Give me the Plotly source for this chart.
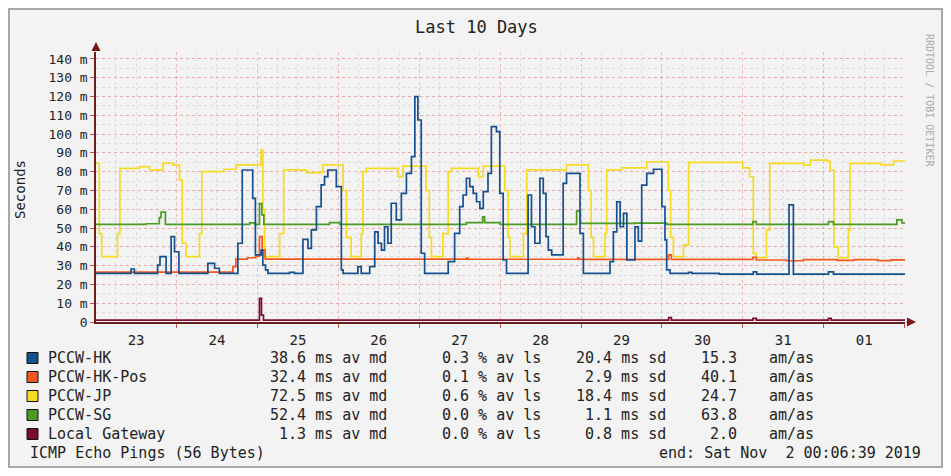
import pandas as pd
import plotly.graph_objects as go

# 時刻はすべて 2019-10-23 00:00 からの経過時間 (h)
START = pd.Timestamp("2019-10-23 00:00:00")
END = pd.Timestamp("2019-11-02 00:06:39")

hk_t = [0.11, 10.5, 11.5, 18.4, 19.1, 20.9, 22.4, 23.4, 24.7, 33.3, 35.3, 36.7,
        42.2, 43.5, 46.6, 47.4, 49.1, 49.6, 50.4, 51.1, 57.5, 59.0,
        61.5, 63.0, 64.0, 65.5, 66.9, 67.9, 68.9, 71.4, 72.9, 73.4, 77.8, 78.8,
        81.3, 82.8, 83.8, 84.8, 85.7, 86.7, 87.7, 89.2, 90.7, 92.2, 93.7, 94.7,
        95.6, 96.6, 97.6, 104.6, 106.5, 108.0, 109.0, 110.0, 111.0, 112.0, 113.0,
        114.0, 115.0, 116.4, 117.4, 118.9, 119.9, 120.9, 121.9,
        128.3, 129.3, 130.3, 131.8, 132.8, 133.6, 134.3, 135.3, 138.7, 139.7,
        143.7, 144.7, 152.6, 153.6, 154.6, 155.6, 156.6, 157.6, 160.0, 161.0,
        162.0, 163.5, 165.5, 168.0, 168.9, 169.4, 170.4, 175.9, 176.9, 185.0,
        195.1, 196.1, 205.7, 207.0, 217.4, 218.9, 240.11]
hk_v = [25.9, 28.2, 25.9, 30.3, 34.8, 25.9, 45.4, 37.4, 25.9, 31.2, 28.6, 25.9,
        41.9, 80.9, 65.8, 35.7, 38.3, 30.3, 27.7, 25.9, 26.4, 25.9,
        44.0, 39.2, 49.0, 61.4, 73.0, 77.4, 80.9, 72.0, 27.7, 25.9, 29.5, 25.9,
        29.5, 48.0, 41.9, 38.3, 50.7, 41.9, 63.2, 54.3, 68.5, 79.1, 88.0, 120.0,
        107.5, 36.6, 25.9, 32.1, 47.2, 61.4, 67.6, 76.5, 72.0, 68.5, 64.0,
        60.5, 69.4, 79.1, 104.0, 101.3, 68.5, 33.0, 25.9,
        67.6, 50.7, 41.9, 76.5, 68.5, 45.4, 38.3, 35.7, 73.8, 79.1,
        47.2, 25.9, 32.1, 48.0, 64.0, 50.7, 57.8, 33.0, 50.7, 43.0,
        72.9, 79.1, 81.3, 61.4, 43.7, 27.7, 25.9, 26.4, 25.9, 25.5,
        26.7, 25.5, 62.3, 25.5, 26.7, 25.5, 25.5]

pos_t = [0.11, 40.7, 41.6, 45.0, 47.5, 48.6, 49.4, 50.3, 110.0, 110.5, 143.0, 143.5,
         170.0, 170.8, 195.0, 196.0, 205.0, 210.0, 220.0, 225.0, 232.0, 236.0, 240.11]
pos_v = [26.5, 29.5, 33.5, 34.2, 35.0, 45.4, 38.3, 33.5, 34.0, 33.4, 34.0, 33.3,
         35.7, 33.3, 34.4, 33.0, 32.6, 33.2, 32.8, 33.2, 32.7, 33.1, 33.1]

jp_t = [0.11, 1.1, 1.8, 6.5, 7.2, 13.0, 16.0, 20.0, 23.0, 24.9, 25.7, 26.8, 30.8, 31.5,
        38.0, 41.7, 49.1, 49.6, 50.1, 54.6, 55.8, 62.5, 67.4, 73.4, 74.4, 75.8,
        78.8, 79.3, 80.3, 89.7, 91.2, 98.0, 99.0, 99.6, 103.0, 104.6, 105.6,
        113.5, 115.0, 121.4, 122.4, 122.9, 126.9, 127.9, 139.7, 146.2, 147.0,
        147.7, 151.1, 151.6, 156.0, 163.5, 169.9, 170.6, 171.4, 174.4, 175.9,
        192.0, 194.0, 195.1, 196.0, 199.0, 200.0, 210.0, 212.0, 217.0, 217.9,
        219.0, 220.3, 223.3, 223.8, 233.0, 236.7, 240.11]
jp_v = [84.5, 47.0, 34.8, 47.0, 81.8, 82.7, 81.0, 84.5, 83.5, 75.6, 41.9, 34.8, 47.0, 80.0,
        81.3, 83.6, 91.5, 60.0, 34.8, 47.0, 81.0, 79.5, 83.6, 70.0, 45.0, 34.8,
        47.0, 80.0, 81.8, 77.4, 83.0, 70.0, 45.0, 34.8, 47.0, 80.0, 81.8,
        77.4, 83.0, 70.0, 45.0, 34.8, 47.0, 81.0, 83.6, 70.0, 45.0,
        34.8, 47.0, 81.0, 82.0, 85.3, 70.0, 45.0, 34.8, 41.0, 85.0,
        82.0, 77.3, 36.5, 34.2, 49.0, 84.4, 83.5, 86.2, 85.5, 80.9,
        40.0, 34.2, 49.0, 84.4, 83.6, 85.7, 85.7]

sg_t = [0.11, 15.0, 18.9, 19.4, 20.7, 45.7, 47.2, 48.6, 49.3, 49.9, 69.4, 72.4,
        110.0, 114.8, 115.4, 120.0, 142.7, 143.8, 160.0, 169.4, 195.0, 196.0,
        217.4, 218.9, 237.7, 239.2, 240.11]
sg_v = [52.0, 52.3, 55.5, 58.5, 52.0, 52.8, 52.0, 63.0, 57.0, 52.0, 52.9, 52.0,
        52.9, 56.0, 52.9, 52.0, 59.0, 52.5, 52.6, 52.0, 53.4, 52.0,
        53.4, 52.0, 54.3, 52.8, 52.8]

gw_t = [0.11, 48.6, 49.2, 49.8, 170.0, 170.8, 195.0, 196.0, 217.4, 218.2, 240.11]
gw_v = [1.0, 12.6, 3.7, 1.0, 2.3, 1.0, 1.9, 1.0, 1.9, 1.0, 1.0]

names = ["PCCW-HK", "PCCW-HK-Pos", "PCCW-JP", "PCCW-SG", "Local Gateway"]
colors = ["#15508e", "#f4581f", "#f7da22", "#4c9a1f", "#7a0b2e"]
med = ["38.6", "32.4", "72.5", "52.4", "1.3"]
loss = ["0.3", "0.1", "0.6", "0.0", "0.0"]
sd = ["20.4", "2.9", "18.4", "1.1", "0.8"]
amas = ["15.3", "40.1", "24.7", "63.8", "2.0"]

series = [(hk_t, hk_v), (pos_t, pos_v), (jp_t, jp_v), (sg_t, sg_v), (gw_t, gw_v)]
MONO = "DejaVu Sans Mono"
MGRID = "rgba(235,110,110,0.45)"
GRID = "#dcdcdc"

# 参照画像のピクセル位置 -> paper座標 (プロット領域 x:96-905, y:52-322)
def px(x):
    return (x - 96) / 809

def py(y):
    return (322 - y) / 270

fig = go.Figure()
for i in [2, 3, 1, 0, 4]:
    t, v = series[i]
    fig.add_trace(go.Scatter(
        x=START + pd.to_timedelta(t, unit="h"), y=v,
        mode="lines", line=dict(color=colors[i], width=1.7, shape="hv"),
        name=names[i], showlegend=False, hoverinfo="skip"))

# ページ本体に 8px の余白があるので、その分だけ小さく取る
fig.update_layout(
    width=935, height=460,
    margin=dict(l=88, r=38, t=44, b=146),
    paper_bgcolor="white", plot_bgcolor="white",
    font=dict(family=MONO, size=13, color="#222"),
    xaxis=dict(type="date", range=[START + pd.Timedelta(minutes=6, seconds=39), END],
               dtick=86400000, tick0="2019-10-23", tickformat="%d",
               ticklabelmode="period", tickfont=dict(size=14),
               showgrid=True, gridcolor=MGRID, griddash="dot", gridwidth=1,
               minor=dict(dtick=21600000, showgrid=True, gridcolor=GRID,
                          griddash="dot"),
               ticks="outside", ticklen=4, tickcolor="#c05050",
               showline=True, linecolor="#6b1e1e", linewidth=1.5, zeroline=False),
    yaxis=dict(range=[0, 143.7],
               tickvals=[0, 10, 20, 30, 40, 50, 60, 70, 80, 90, 100, 110, 120, 130, 140],
               ticktext=["0"] + ["%d m" % v for v in range(10, 150, 10)],
               tickfont=dict(size=13),
               showgrid=True, gridcolor=MGRID, griddash="dot", gridwidth=1,
               minor=dict(dtick=5, showgrid=True, gridcolor=GRID, griddash="dot"),
               ticks="outside", ticklen=4, tickcolor="#c05050",
               showline=True, linecolor="#6b1e1e", linewidth=1.5, zeroline=False),
)

# 外枠
fig.add_shape(type="rect", xref="paper", yref="paper",
              x0=px(9), x1=px(942), y0=py(467), y1=py(9),
              fillcolor="#f3f3f3", line=dict(color="#a8a8a8", width=2), layer="below")

ann = []
ann.append(dict(x=px(476), y=py(27), text="Last 10 Days", font=dict(size=17),
                xanchor="center"))
ann.append(dict(x=px(20), y=py(190), text="Seconds", textangle=-90, font=dict(size=14),
                xanchor="center"))
ann.append(dict(x=px(930), y=py(100), text="RRDTOOL / TOBI OETIKER", textangle=90,
                font=dict(size=10, color="#aaaaaa"), xanchor="center"))
# 軸の矢印
ann.append(dict(x=px(916), y=py(322), ax=-11, ay=0,
                showarrow=True, arrowhead=2, arrowsize=1.2, arrowwidth=1.5,
                arrowcolor="#7a1515", text=""))
ann.append(dict(x=px(96), y=py(42), ax=0, ay=10,
                showarrow=True, arrowhead=2, arrowsize=1.2, arrowwidth=1.5,
                arrowcolor="#7a1515", text=""))

rows = [358, 377, 396, 415, 434]
for i, name in enumerate(names):
    y = py(rows[i])
    fig.add_shape(type="rect", xref="paper", yref="paper",
                  x0=px(27), x1=px(38), y0=py(rows[i] + 5.5), y1=py(rows[i] - 5.5),
                  fillcolor=colors[i], line=dict(color="#111", width=1))
    ann.append(dict(x=px(46), y=y, text=name, xanchor="left"))
    ann.append(dict(x=px(389), y=y, text=med[i] + " ms av md", xanchor="right"))
    ann.append(dict(x=px(543), y=y, text=loss[i] + " % av ls", xanchor="right"))
    ann.append(dict(x=px(668), y=y, text=sd[i] + " ms sd", xanchor="right"))
    ann.append(dict(x=px(739), y=y, text=amas[i], xanchor="right"))
    ann.append(dict(x=px(767), y=y, text="am/as", xanchor="left"))
ann.append(dict(x=px(28), y=py(453), text="ICMP Echo Pings (56 Bytes)", xanchor="left"))
ann.append(dict(x=px(923), y=py(453), text="end: Sat Nov\u00a0\u00a02 00:06:39 2019",
                xanchor="right"))

for a in ann:
    a.setdefault("xref", "paper")
    a.setdefault("yref", "paper")
    a.setdefault("showarrow", False)
    if not a["showarrow"]:
        a.setdefault("yanchor", "middle")
    f = a.setdefault("font", {})
    f.setdefault("family", MONO)
    f.setdefault("size", 15)
    f.setdefault("color", "#222")
    fig.add_annotation(**a)

fig.write_html("out.html")
